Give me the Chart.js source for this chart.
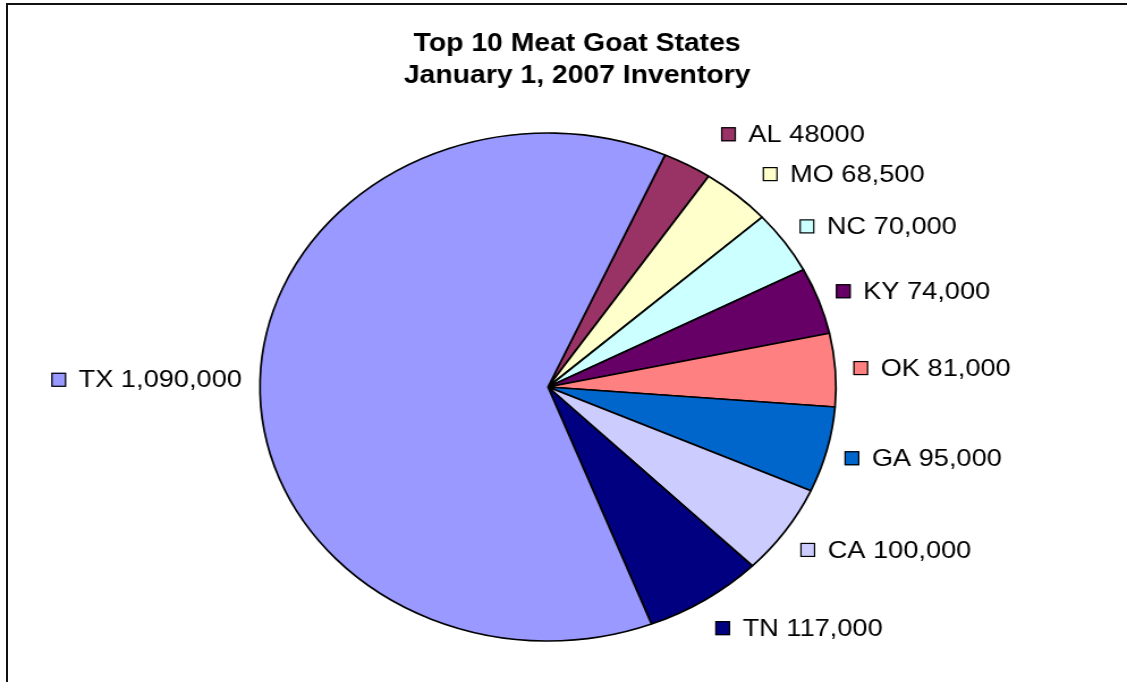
<!DOCTYPE html>
<html>
<head>
<meta charset="utf-8">
<script src="https://cdn.jsdelivr.net/npm/chart.js@4.4.0/dist/chart.umd.min.js"></script>
<style>
  html, body { margin: 0; padding: 0; background: #fff; overflow: hidden; }
  #frame {
    position: absolute; left: 6px; top: 3px; width: 1130px; height: 690px;
    border-top: 2px solid #111; border-left: 2px solid #111;
  }
  #wrap {
    position: absolute; left: 0; top: 0; width: 994px; height: 682px;
    transform: scaleX(1.1338); transform-origin: 0 0;
  }
</style>
</head>
<body>
<div id="frame"></div>
<div id="wrap"><canvas id="goatChart"></canvas></div>
<script>
// Goat inventory by state
const states = ["AL", "MO", "NC", "KY", "OK", "GA", "CA", "TN", "TX"];
const goats = [48000, 68500, 70000, 74000, 81000, 95000, 100000, 117000, 1090000];
const valueText = ["48000", "68,500", "70,000", "74,000", "81,000", "95,000", "100,000", "117,000", "1,090,000"];
const sliceColors = ["#993366", "#FFFFCC", "#CCFFFF", "#660066", "#FF8080", "#0066CC", "#CCCCFF", "#000080", "#9999FF"];
const titleLines = ["Top 10 Meat Goat States", "January 1, 2007 Inventory"];

const FONT = "'Liberation Sans', Arial, sans-serif";

// Title, drawn a bit right of the pie centre like the original
const titlePlugin = {
    id: "goatTitle",
    afterDraw(chart) {
        const ctx = chart.ctx;
        ctx.save();
        ctx.font = "bold 25px " + FONT;
        ctx.fillStyle = "#000";
        ctx.textAlign = "center";
        ctx.textBaseline = "middle";
        titleLines.forEach((t, i) => ctx.fillText(t, 509, 44 + i * 32));
        ctx.restore();
    }
};

// Labels with a coloured square beside each slice
const labelPlugin = {
    id: "sliceLabels",
    afterDatasetsDraw(chart) {
        const ctx = chart.ctx;
        const meta = chart.getDatasetMeta(0);
        ctx.save();
        ctx.font = "24px " + FONT;
        ctx.textBaseline = "middle";
        meta.data.forEach((arc, i) => {
            const p = arc.getProps(["x", "y", "startAngle", "endAngle", "outerRadius"], true);
            const mid = (p.startAngle + p.endAngle) / 2;
            const ux = Math.cos(mid), uy = Math.sin(mid);
            let ax = p.x + ux * (p.outerRadius + 16);
            const ay = p.y + uy * (p.outerRadius + (uy > 0 ? 34 : 28)) - (uy < -0.8 ? 6 : 0);
            if (ux > 0 && uy < -0.6) ax += (-uy - 0.6) * 80;
            const text = states[i] + " " + valueText[i];
            const tw = ctx.measureText(text).width;
            let mx = ax;
            if (ux < 0) mx = ax - tw - 24;
            ctx.fillStyle = sliceColors[i];
            ctx.fillRect(mx, ay - 7, 13, 14);
            ctx.strokeStyle = "#000";
            ctx.lineWidth = 1.2;
            ctx.strokeRect(mx + 0.5, ay - 6.5, 12, 13);
            ctx.fillStyle = "#000";
            ctx.textAlign = "left";
            ctx.fillText(text, mx + 24, ay + 1);
        });
        ctx.restore();
    }
};

new Chart(document.getElementById("goatChart"), {
    type: "pie",
    data: {
        labels: states,
        datasets: [{
            data: goats,
            backgroundColor: sliceColors,
            borderColor: "#000",
            borderWidth: 1.7
        }]
    },
    options: {
        responsive: true,
        maintainAspectRatio: false,
        animation: false,
        rotation: 24,
        radius: 254,
        layout: { padding: { left: 0, right: 27.4, top: 92, bottom: 0 } },
        plugins: {
            legend: { display: false },
            title: { display: false },
            tooltip: { enabled: false }
        }
    },
    plugins: [titlePlugin, labelPlugin]
});
</script>
</body>
</html>
